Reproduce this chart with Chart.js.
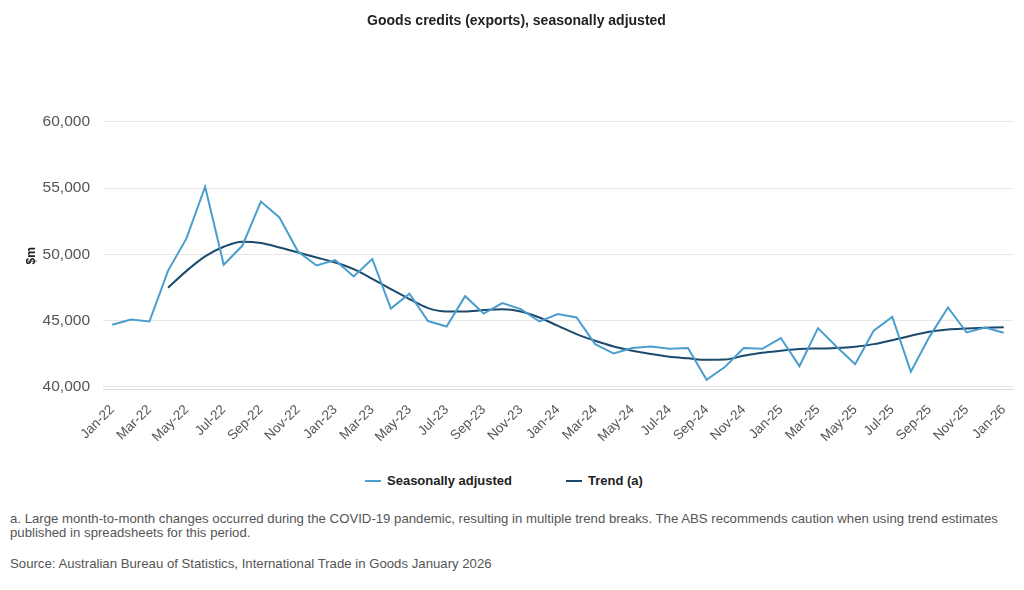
<!DOCTYPE html>
<html>
<head>
    <title>Goods credits (exports)</title>
    <script src="https://cdn.jsdelivr.net/npm/chart.js"></script>
    <style>
        body {
            margin: 0;
            background-color: #ffffff;
            font-family: "Liberation Sans", Arial, sans-serif;
        }
        .chart-container {
            position: absolute;
            left: 0;
            top: 0;
            width: 1024px;
            height: 449px;
        }
        .legend {
            position: absolute;
            top: 473px;
            left: 0;
            width: 1024px;
            height: 16px;
            font-size: 13px;
            font-weight: bold;
            color: #222;
        }
        .legend span {
            position: absolute;
            top: 0;
            line-height: 16px;
            white-space: nowrap;
        }
        .legend i {
            display: inline-block;
            width: 16px;
            height: 2px;
            margin-right: 6px;
            vertical-align: middle;
            position: relative;
            top: -1px;
        }
        .notes {
            position: absolute;
            left: 10px;
            top: 512px;
            width: 1006px;
            font-size: 13.2px;
            line-height: 13.5px;
            color: #555;
        }
        .notes p {
            margin: 0 0 18px 0;
        }
    </style>
</head>
<body>
    <div class="chart-container">
        <canvas id="exportsChart"></canvas>
    </div>
    <div class="legend" id="legend"></div>
    <div class="notes">
        <p>a. Large month-to-month changes occurred during the COVID-19 pandemic, resulting in multiple trend breaks. The ABS recommends caution when using trend estimates published in spreadsheets for this period.</p>
        <p>Source: Australian Bureau of Statistics, International Trade in Goods January 2026</p>
    </div>

    <script>
        // Months, Jan-22 to Jan-26
        const months = [
            'Jan-22', 'Feb-22', 'Mar-22', 'Apr-22', 'May-22', 'Jun-22', 'Jul-22', 'Aug-22', 'Sep-22', 'Oct-22', 'Nov-22', 'Dec-22',
            'Jan-23', 'Feb-23', 'Mar-23', 'Apr-23', 'May-23', 'Jun-23', 'Jul-23', 'Aug-23', 'Sep-23', 'Oct-23', 'Nov-23', 'Dec-23',
            'Jan-24', 'Feb-24', 'Mar-24', 'Apr-24', 'May-24', 'Jun-24', 'Jul-24', 'Aug-24', 'Sep-24', 'Oct-24', 'Nov-24', 'Dec-24',
            'Jan-25', 'Feb-25', 'Mar-25', 'Apr-25', 'May-25', 'Jun-25', 'Jul-25', 'Aug-25', 'Sep-25', 'Oct-25', 'Nov-25', 'Dec-25',
            'Jan-26'
        ];

        // Seasonally adjusted ($m)
        const seasonallyAdjusted = [
            44680, 45080, 44930, 48750, 51220, 55100, 49210, 50640, 53980, 52780, 50210, 49160,
            49560, 48330, 49650, 45910, 47020, 44960, 44550, 46840, 45530, 46320, 45860, 44930,
            45490, 45230, 43220, 42510, 42920, 43040, 42870, 42920, 40530, 41510, 42920, 42870,
            43680, 41560, 44430, 43020, 41710, 44230, 45280, 41130, 43770, 45990, 44100, 44480,
            44080
        ];

        // Trend ($m), starts Apr-22
        const trend = [
            null, null, null, 47470, 48750, 49840, 50570, 50940, 50850, 50520, 50140, 49760,
            49380, 48880, 48150, 47370, 46620, 45940, 45690, 45690, 45790, 45860, 45690, 45230,
            44600, 43970, 43470, 43040, 42720, 42470, 42270, 42150, 42040, 42060, 42340, 42570,
            42720, 42850, 42890, 42920, 43020, 43220, 43520, 43850, 44150, 44330, 44400, 44450,
            44500
        ];

        // y axis tick values
        const yTicks = [40000, 45000, 50000, 55000, 60000];

        const saColour = '#4a9ece';
        const trendColour = '#1b4a6d';
        const font = '"Liberation Sans", Arial, sans-serif';

        const ctx = document.getElementById('exportsChart').getContext('2d');
        const exportsChart = new Chart(ctx, {
            type: 'line',
            data: {
                labels: months,
                datasets: [{
                    label: 'Seasonally adjusted',
                    data: seasonallyAdjusted,
                    borderColor: saColour,
                    backgroundColor: saColour,
                    borderWidth: 2,
                    pointRadius: 0,
                    tension: 0
                }, {
                    label: 'Trend (a)',
                    data: trend,
                    borderColor: trendColour,
                    backgroundColor: trendColour,
                    borderWidth: 2,
                    pointRadius: 0,
                    cubicInterpolationMode: 'monotone'
                }]
            },
            options: {
                responsive: true,
                maintainAspectRatio: false,
                animation: false,
                layout: {
                    padding: { left: 20, right: 11, top: 0, bottom: 0 }
                },
                scales: {
                    x: {
                        offset: true,
                        grid: { display: false },
                        border: { color: '#d8dbe0' },
                        ticks: {
                            autoSkip: false,
                            maxRotation: 45,
                            minRotation: 45,
                            padding: 4,
                            color: '#555',
                            font: { family: font, size: 13.5 },
                            callback: function(value, index) {
                                return index % 2 === 0 ? months[index] : '';
                            }
                        }
                    },
                    y: {
                        min: 39780,
                        max: 60000,
                        grid: { color: '#e6e6e6', drawTicks: false },
                        border: { display: false },
                        afterBuildTicks: function(axis) {
                            axis.ticks = yTicks.map(v => ({ value: v }));
                        },
                        afterFit: function(axis) {
                            axis.width = 83;
                        },
                        ticks: {
                            padding: 13,
                            color: '#555',
                            font: { family: font, size: 15.5 },
                            callback: function(value) {
                                return value.toLocaleString('en-AU');
                            }
                        },
                        title: {
                            display: true,
                            text: '$m',
                            color: '#222',
                            font: { family: font, size: 12, weight: 'bold' }
                        }
                    }
                },
                plugins: {
                    title: {
                        display: true,
                        text: 'Goods credits (exports), seasonally adjusted',
                        color: '#222',
                        font: { family: font, size: 14, weight: 'bold' },
                        padding: { top: 13, bottom: 92 }
                    },
                    legend: { display: false },
                    tooltip: { enabled: false }
                }
            }
        });

        // Legend below the chart, built from the datasets
        const legendEl = document.getElementById('legend');
        const legendX = [365, 566];
        exportsChart.data.datasets.forEach((ds, i) => {
            const item = document.createElement('span');
            item.style.left = legendX[i] + 'px';
            item.innerHTML = '<i style="background:' + ds.borderColor + '"></i>' + ds.label;
            legendEl.appendChild(item);
        });
    </script>
</body>
</html>
